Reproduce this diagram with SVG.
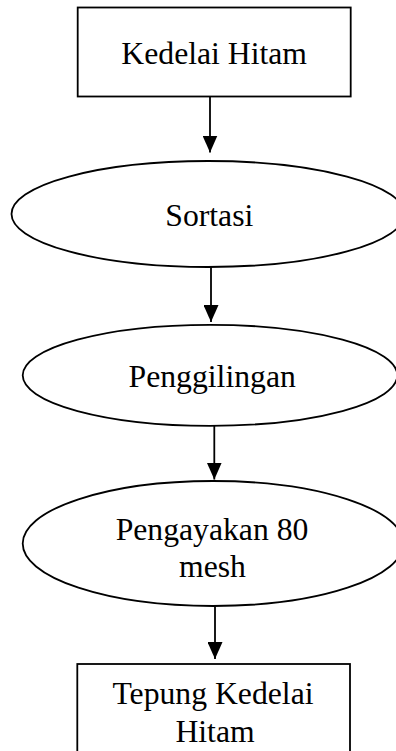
<svg xmlns="http://www.w3.org/2000/svg" width="396" height="751" viewBox="0 0 396 751">
<style>
.box{fill:#fff;stroke:#000;stroke-width:1.8}
.lbl{font-family:"Liberation Serif","Times New Roman",serif;font-size:31.7px;fill:#000;text-anchor:middle}
.conn{stroke:#000;stroke-width:1.8;fill:none}
</style>
<defs>
<marker id="ah" markerUnits="userSpaceOnUse" markerWidth="17" markerHeight="15" refX="17" refY="7.5" orient="auto">
<path d="M0,0 L17,7.5 L0,15 Z" fill="#000"/>
</marker>
</defs>
<rect width="396" height="751" fill="#fff"/>
<g id="connectors">
<line class="conn" x1="210" y1="97" x2="210" y2="152.5" marker-end="url(#ah)"/>
<line class="conn" x1="211" y1="267" x2="211" y2="322" marker-end="url(#ah)"/>
<line class="conn" x1="214.3" y1="426" x2="214.3" y2="479.5" marker-end="url(#ah)"/>
<line class="conn" x1="215" y1="606.5" x2="215" y2="659" marker-end="url(#ah)"/>
</g>
<g id="node-kedelai-hitam">
<rect class="box" x="77.7" y="7.5" width="273" height="89"/>
<text class="lbl" x="214.2" y="64.3">Kedelai Hitam</text>
</g>
<g id="node-sortasi">
<ellipse class="box" cx="208" cy="214" rx="196.5" ry="53"/>
<text class="lbl" x="209.3" y="226">Sortasi</text>
</g>
<g id="node-penggilingan">
<ellipse class="box" cx="210" cy="375.3" rx="187.3" ry="50.5"/>
<text class="lbl" x="212.2" y="386.7">Penggilingan</text>
</g>
<g id="node-pengayakan">
<ellipse class="box" cx="213" cy="543.5" rx="190.3" ry="62.5"/>
<text class="lbl" x="212" y="540">Pengayakan 80</text>
<text class="lbl" x="212.5" y="576.7">mesh</text>
</g>
<g id="node-tepung">
<rect class="box" x="77.3" y="664" width="272.7" height="100"/>
<text class="lbl" x="213" y="704">Tepung Kedelai</text>
<text class="lbl" x="215" y="741.7">Hitam</text>
</g>
</svg>
